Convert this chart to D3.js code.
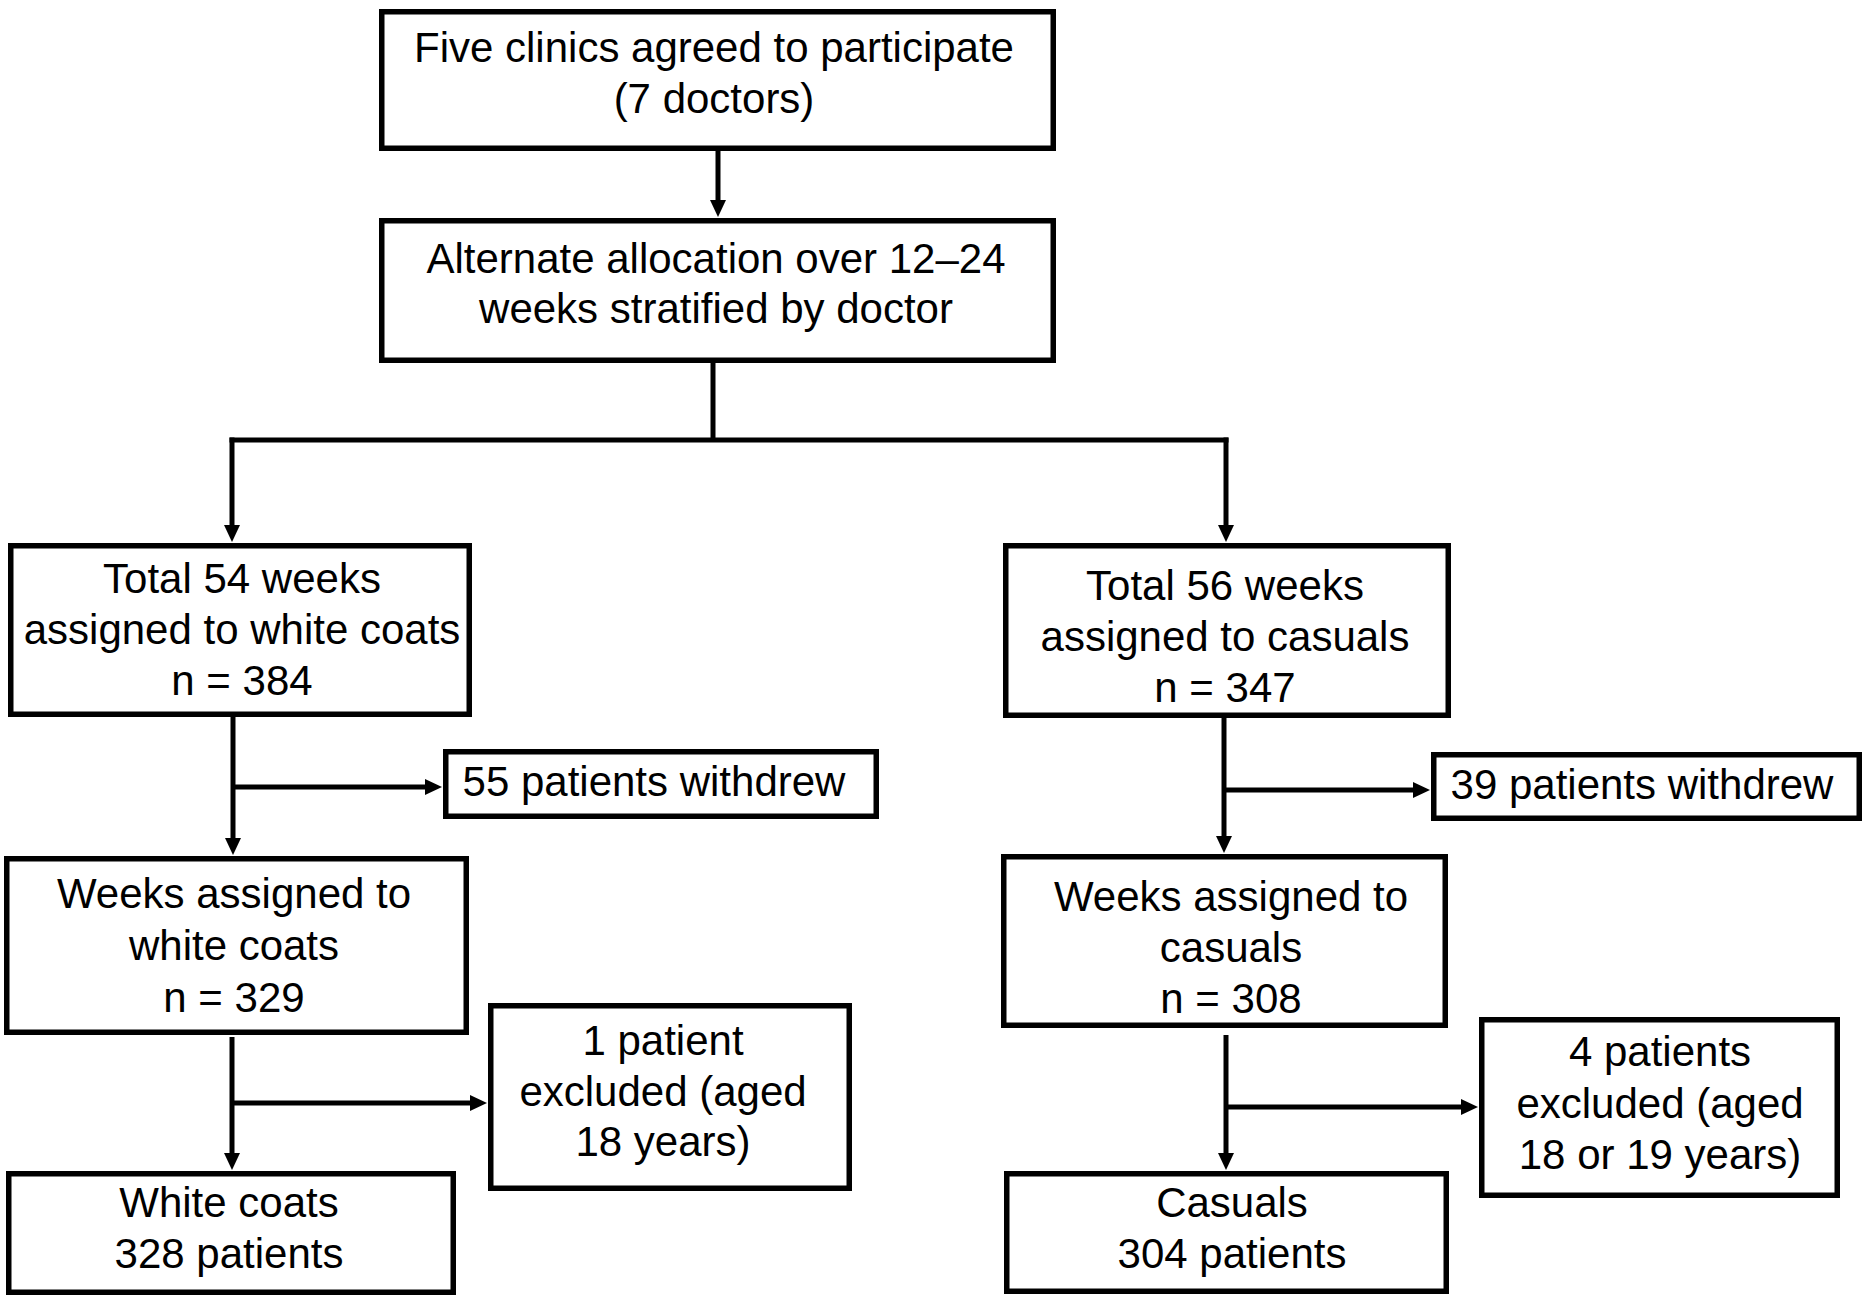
<!DOCTYPE html>
<html>
<head>
<meta charset="utf-8">
<script src="https://cdn.jsdelivr.net/npm/d3@7"></script>
<style>
  html, body { margin: 0; padding: 0; background: #fff; }
  svg { display: block; }
  text { font-family: "Liberation Sans", Arial, sans-serif; fill: #000; }
</style>
</head>
<body>
<svg id="chart" width="1864" height="1297"></svg>
<script>
// ---- Data ----
const boxIds = ["enrol", "alloc", "wcTotal", "caTotal", "wcWithdrew", "caWithdrew",
                "wcWeeks", "caWeeks", "wcExcl", "caExcl", "wcFinal", "caFinal"];
const boxLines = [
  ["Five clinics agreed to participate", "(7 doctors)"],
  ["Alternate allocation over 12\u201324", "weeks stratified by doctor"],
  ["Total 54 weeks", "assigned to white coats", "n = 384"],
  ["Total 56 weeks", "assigned to casuals", "n = 347"],
  ["55 patients withdrew"],
  ["39 patients withdrew"],
  ["Weeks assigned to", "white coats", "n = 329"],
  ["Weeks assigned to", "casuals", "n = 308"],
  ["1 patient", "excluded (aged", "18 years)"],
  ["4 patients", "excluded (aged", "18 or 19 years)"],
  ["White coats", "328 patients"],
  ["Casuals", "304 patients"]
];
// connections: [from, to, kind]
const links = [
  ["enrol", "alloc", "down"],
  ["alloc", "wcTotal", "split"],
  ["alloc", "caTotal", "split"],
  ["wcTotal", "wcWeeks", "down"],
  ["wcTotal", "wcWithdrew", "side"],
  ["caTotal", "caWeeks", "down"],
  ["caTotal", "caWithdrew", "side"],
  ["wcWeeks", "wcFinal", "down"],
  ["wcWeeks", "wcExcl", "side"],
  ["caWeeks", "caFinal", "down"],
  ["caWeeks", "caExcl", "side"]
];

// ---- Layout (pixel geometry of the page) ----
// box: [left, top, right, bottom] outer edges, text centre x, first baseline
const layout = {
  enrol:      { box: [379, 9, 1056, 151],    tx: 714,  ty: 62,   lh: 51 },
  alloc:      { box: [379, 218, 1056, 363],  tx: 716,  ty: 273,  lh: 50 },
  wcTotal:    { box: [8, 543, 472, 717],     tx: 242,  ty: 593,  lh: 51 },
  caTotal:    { box: [1003, 543, 1451, 718], tx: 1225, ty: 600,  lh: 51 },
  wcWithdrew: { box: [443, 749, 879, 819],   tx: 654,  ty: 796,  lh: 50 },
  caWithdrew: { box: [1431, 752, 1862, 821], tx: 1642, ty: 799,  lh: 50 },
  wcWeeks:    { box: [4, 856, 469, 1035],    tx: 234,  ty: 908,  lh: 52 },
  caWeeks:    { box: [1001, 854, 1448, 1028],tx: 1231, ty: 911,  lh: 51 },
  wcExcl:     { box: [488, 1003, 852, 1191], tx: 663,  ty: 1055, lh: 50.5 },
  caExcl:     { box: [1479, 1017, 1840, 1198], tx: 1660, ty: 1066, lh: 51.5 },
  wcFinal:    { box: [6, 1171, 456, 1295],   tx: 229,  ty: 1217, lh: 51 },
  caFinal:    { box: [1004, 1171, 1449, 1294], tx: 1232, ty: 1217, lh: 51 }
};
// connector geometry: trunk x for each source, branch y for side links
const trunkX = { enrol: 718, alloc: 713, wcTotal: 233, caTotal: 1224, wcWeeks: 232, caWeeks: 1226 };
const dropX = { wcTotal: 232, caTotal: 1226 };
const splitY = 440;
const sideY = { wcWithdrew: 787, caWithdrew: 790, wcExcl: 1103, caExcl: 1107 };
const trunkStart = { wcWeeks: 1037, caWeeks: 1035 };

const FONT = 42;
const BOX_STROKE = 5.5;
const LINE_STROKE = 5;
const HEAD_W = 16, HEAD_L = 17;

// ---- Drawing ----
const svg = d3.select("#chart");
const gLinks = svg.append("g");
const gBoxes = svg.append("g");

const nodes = boxIds.map((id, i) => ({ id, lines: boxLines[i], ...layout[id] }));
const byId = new Map(nodes.map(n => [n.id, n]));

const line = d3.line();

function arrow(points) {
  const n = points.length;
  const [x1, y1] = points[n - 2], [x2, y2] = points[n - 1];
  const dx = x2 - x1, dy = y2 - y1, len = Math.hypot(dx, dy);
  const ux = dx / len, uy = dy / len;
  const bx = x2 - ux * HEAD_L, by = y2 - uy * HEAD_L;
  const shaft = points.slice(0, n - 1).concat([[bx + ux * 1, by + uy * 1]]);
  gLinks.append("path")
    .attr("d", line(shaft))
    .attr("fill", "none")
    .attr("stroke", "#000")
    .attr("stroke-width", LINE_STROKE)
    .attr("stroke-linejoin", "miter")
    .attr("stroke-linecap", "butt");
  const px = -uy, py = ux;
  gLinks.append("path")
    .attr("d", line([[x2, y2], [bx + px * HEAD_W / 2, by + py * HEAD_W / 2], [bx - px * HEAD_W / 2, by - py * HEAD_W / 2]]) + "Z")
    .attr("fill", "#000");
}

// split trunk (drawn once)
const alloc = byId.get("alloc");
gLinks.append("path")
  .attr("d", line([[trunkX.alloc, alloc.box[3]], [trunkX.alloc, splitY]]))
  .attr("stroke", "#000").attr("stroke-width", LINE_STROKE);
gLinks.append("path")
  .attr("d", line([[dropX.wcTotal - LINE_STROKE / 2, splitY], [dropX.caTotal + LINE_STROKE / 2, splitY]]))
  .attr("stroke", "#000").attr("stroke-width", LINE_STROKE);

links.forEach(([from, to, kind]) => {
  const s = byId.get(from), t = byId.get(to);
  if (kind === "down" && from === "enrol") {
    arrow([[trunkX[from], s.box[3]], [trunkX[from], t.box[1] - 1]]);
  } else if (kind === "split") {
    arrow([[dropX[to], splitY - LINE_STROKE / 2], [dropX[to], t.box[1] - 1]]);
  } else if (kind === "down") {
    const y0 = trunkStart[from] !== undefined ? trunkStart[from] : s.box[3];
    arrow([[trunkX[from], y0], [trunkX[from], t.box[1] - 1]]);
  } else if (kind === "side") {
    arrow([[trunkX[from], sideY[to]], [t.box[0] - 1, sideY[to]]]);
  }
});

// boxes
const box = gBoxes.selectAll("g.node").data(nodes).join("g").attr("class", "node");
box.append("rect")
  .attr("x", d => d.box[0] + BOX_STROKE / 2)
  .attr("y", d => d.box[1] + BOX_STROKE / 2)
  .attr("width", d => d.box[2] - d.box[0] - BOX_STROKE)
  .attr("height", d => d.box[3] - d.box[1] - BOX_STROKE)
  .attr("fill", "#fff")
  .attr("stroke", "#000")
  .attr("stroke-width", BOX_STROKE);

box.each(function(d) {
  const t = d3.select(this).append("text")
    .attr("text-anchor", "middle")
    .attr("font-size", FONT);
  t.selectAll("tspan").data(d.lines).join("tspan")
    .attr("x", d.tx)
    .attr("y", (l, i) => d.ty + i * d.lh)
    .text(l => l);
});
</script>
</body>
</html>
